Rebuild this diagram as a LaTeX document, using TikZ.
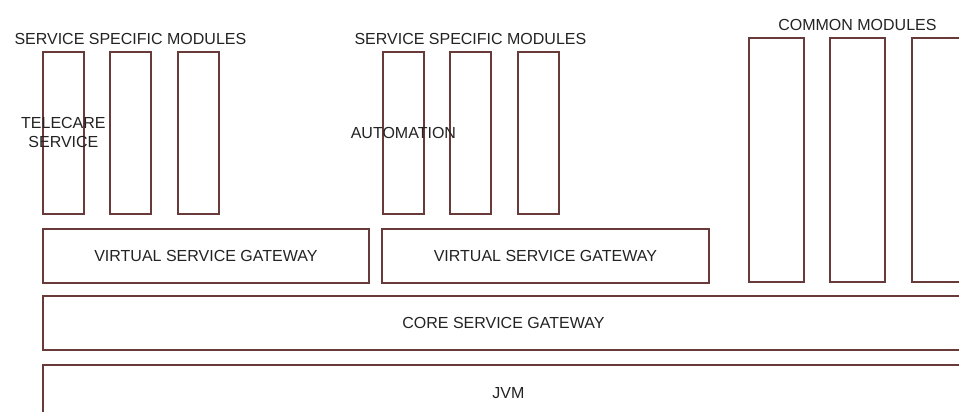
\documentclass[tikz,border=0pt]{standalone}
\usepackage{fontspec}
\setmainfont{Liberation Sans}
\usetikzlibrary{positioning}

\definecolor{boxline}{RGB}{105,58,58}
\definecolor{labeltext}{RGB}{35,35,35}

\tikzset{
  modbox/.style={draw=boxline, line width=1.8pt, rectangle, anchor=north west,
    inner sep=0pt, text=labeltext, align=center},
  grouptitle/.style={text=labeltext, inner sep=0pt},
}

\begin{document}
\begin{tikzpicture}[x=1pt, y=-1pt, font=\fontsize{16}{19}\selectfont]

\useasboundingbox (0,0) rectangle (959,412);
\fill[white] (0,0) rectangle (959,412);

% service specific modules (left)
\foreach \i/\x in {1/42, 2/109, 3/177}
    \node[modbox, minimum width=41pt, minimum height=162pt] (telemod\i) at (\x,51) {};
\node[grouptitle, above=6pt of telemod2] (teletitle) {SERVICE SPECIFIC MODULES};
\node[text=labeltext, align=center, inner sep=0pt] (telecare) at (telemod1) {TELECARE\\SERVICE};

% service specific modules (middle)
\foreach \i/\x in {1/382, 2/449, 3/517}
    \node[modbox, minimum width=41pt, minimum height=162pt] (automod\i) at (\x,51) {};
\node[grouptitle, above=6pt of automod2] (autotitle) {SERVICE SPECIFIC MODULES};
\node[text=labeltext, inner sep=0pt] (automation) at (automod1) {AUTOMATION};

% common modules (right)
\foreach \i/\x in {1/748, 2/829, 3/911}
    \node[modbox, minimum width=55pt, minimum height=244pt] (commod\i) at (\x,37) {};
\node[grouptitle, above=6pt of commod2] (comtitle) {COMMON MODULES};

% gateways
\node[modbox, minimum width=326pt, minimum height=54pt] (vsgleft) at (42,228) {VIRTUAL SERVICE GATEWAY};
\node[modbox, minimum width=327pt, minimum height=54pt] (vsgright) at (381,228) {VIRTUAL SERVICE GATEWAY};
\node[modbox, minimum width=921pt, minimum height=54pt] (core) at (42,295) {CORE SERVICE GATEWAY};

% jvm
\node[modbox, minimum width=931pt, minimum height=56pt] (jvm) at (42,364) {JVM};

\end{tikzpicture}
\end{document}
